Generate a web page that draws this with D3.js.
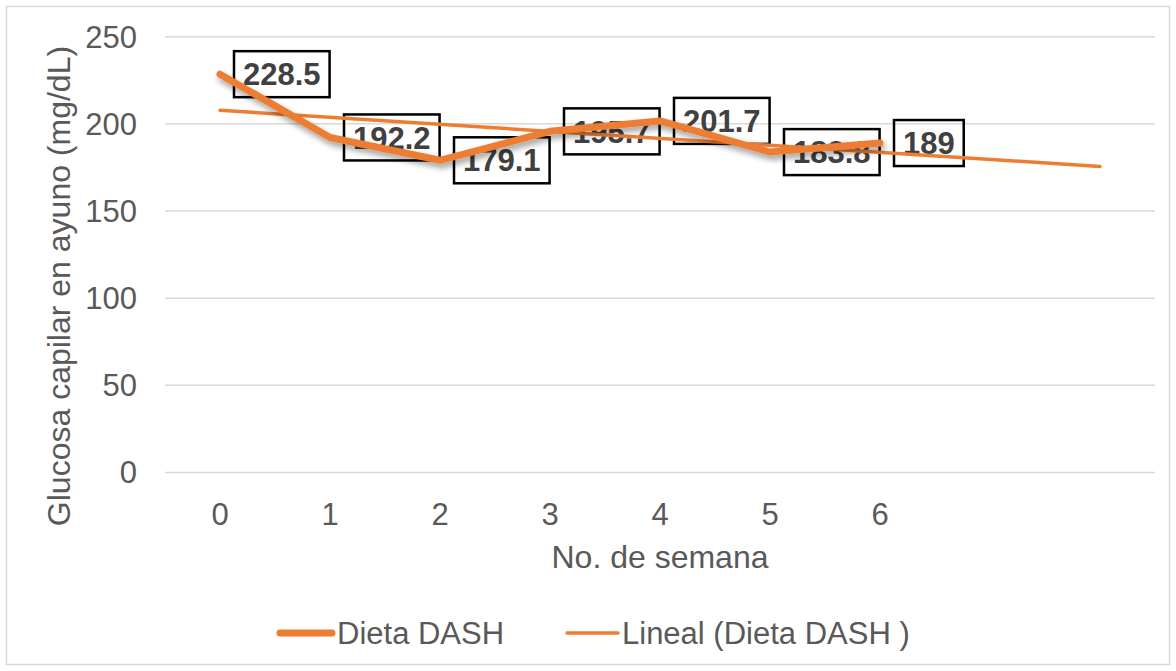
<!DOCTYPE html>
<html><head><meta charset="utf-8">
<script src="https://cdn.jsdelivr.net/npm/d3@7"></script>
<style>
html,body{margin:0;padding:0;background:#fff;}
text{font-family:"Liberation Sans",Arial,sans-serif;}
</style></head>
<body>
<svg id="chart" width="1176" height="671"></svg>
<script>
const categories = ["0","1","2","3","4","5","6","",""];
const weeks = [0,1,2,3,4,5,6];
const glucose = [228.5,192.2,179.1,195.7,201.7,183.8,189];
const labels = ["228.5","192.2","179.1","195.7","201.7","183.8","189"];
const trendWeeks = [0,8];
const trendValues = [207.8,175.6];
const yTicks = [0,50,100,150,200,250];

const svg = d3.select("#chart");
const W = 1176, H = 671;
const orange = "#ED7D31", grey = "#595959", grid = "#D9D9D9";

svg.append("rect").attr("x",6.5).attr("y",6.5).attr("width",W-13).attr("height",H-13)
  .attr("fill","#fff").attr("stroke",grid).attr("stroke-width",1.5);

const defs = svg.append("defs");
const f = defs.append("filter").attr("id","shadow").attr("x","-10%").attr("y","-30%").attr("width","120%").attr("height","160%");
f.append("feGaussianBlur").attr("in","SourceAlpha").attr("stdDeviation",3).attr("result","b");
f.append("feOffset").attr("in","b").attr("dx",2).attr("dy",4).attr("result","o");
f.append("feComponentTransfer").attr("in","o").attr("result","o2")
  .append("feFuncA").attr("type","linear").attr("slope",0.4);
const fm = f.append("feMerge");
fm.append("feMergeNode").attr("in","o2");
fm.append("feMergeNode").attr("in","SourceGraphic");

const x = d3.scaleBand().domain(d3.range(categories.length)).range([165,1155]).padding(0);
const cx = i => x(i) + x.bandwidth()/2;
const y = d3.scaleLinear().domain([0,250]).range([472.5,36.7]);

// gridlines
svg.append("g").selectAll("line").data(yTicks).join("line")
  .attr("x1",165).attr("x2",1155)
  .attr("y1",d=>y(d)).attr("y2",d=>y(d))
  .attr("stroke",grid).attr("stroke-width",1.5);

// y tick labels
svg.append("g").selectAll("text").data(yTicks).join("text")
  .attr("x",137).attr("y",d=>y(d)).attr("dy","0.35em")
  .attr("text-anchor","end").attr("fill",grey).attr("font-size",31)
  .text(d=>d);

// x tick labels
svg.append("g").selectAll("text").data(categories.map((c,i)=>({c,i}))).join("text")
  .attr("x",d=>cx(d.i)).attr("y",525).attr("text-anchor","middle")
  .attr("fill",grey).attr("font-size",31).text(d=>d.c);

// axis titles
svg.append("text").attr("x",660).attr("y",568).attr("text-anchor","middle")
  .attr("fill",grey).attr("font-size",32).text("No. de semana");
svg.append("text").attr("transform","translate(70,286) rotate(-90)")
  .attr("text-anchor","middle").attr("fill",grey).attr("font-size",32)
  .text("Glucosa capilar en ayuno (mg/dL)");

// data labels
const lg = svg.append("g");
weeks.forEach((w,i)=>{
  const g = lg.append("g");
  const t = g.append("text").attr("x",cx(w)+23).attr("y",y(glucose[i])).attr("dy","0.36em")
    .attr("font-size",31).attr("font-weight","bold").attr("fill","#404040").text(labels[i]);
  const bb = t.node().getBBox();
  g.insert("rect","text").attr("x",cx(w)+14).attr("y",y(glucose[i])-23)
    .attr("width",bb.width+18).attr("height",46)
    .attr("fill","none").attr("stroke","#000").attr("stroke-width",2.5);
});

// trendline
const tl = d3.line().x(d=>cx(d[0])).y(d=>y(d[1]));
svg.append("path").datum(trendWeeks.map((w,i)=>[w,trendValues[i]]))
  .attr("d",tl).attr("fill","none").attr("stroke",orange).attr("stroke-width",3.5)
  .attr("stroke-linecap","round");

// main line
svg.append("path").datum(weeks.map((w,i)=>[w,glucose[i]]))
  .attr("d",tl).attr("fill","none").attr("stroke",orange).attr("stroke-width",7)
  .attr("stroke-linecap","round").attr("stroke-linejoin","round").attr("filter","url(#shadow)");

// legend
const leg = svg.append("g");
leg.append("line").attr("x1",280).attr("x2",332).attr("y1",633).attr("y2",633)
  .attr("stroke",orange).attr("stroke-width",7).attr("stroke-linecap","round");
leg.append("text").attr("x",337).attr("y",633).attr("dy","0.35em").attr("fill",grey)
  .attr("font-size",31).text("Dieta DASH");
leg.append("line").attr("x1",567).attr("x2",618).attr("y1",633).attr("y2",633)
  .attr("stroke",orange).attr("stroke-width",3.5).attr("stroke-linecap","round");
leg.append("text").attr("x",622).attr("y",633).attr("dy","0.35em").attr("fill",grey)
  .attr("font-size",31).text("Lineal (Dieta DASH )");
</script>
</body></html>
